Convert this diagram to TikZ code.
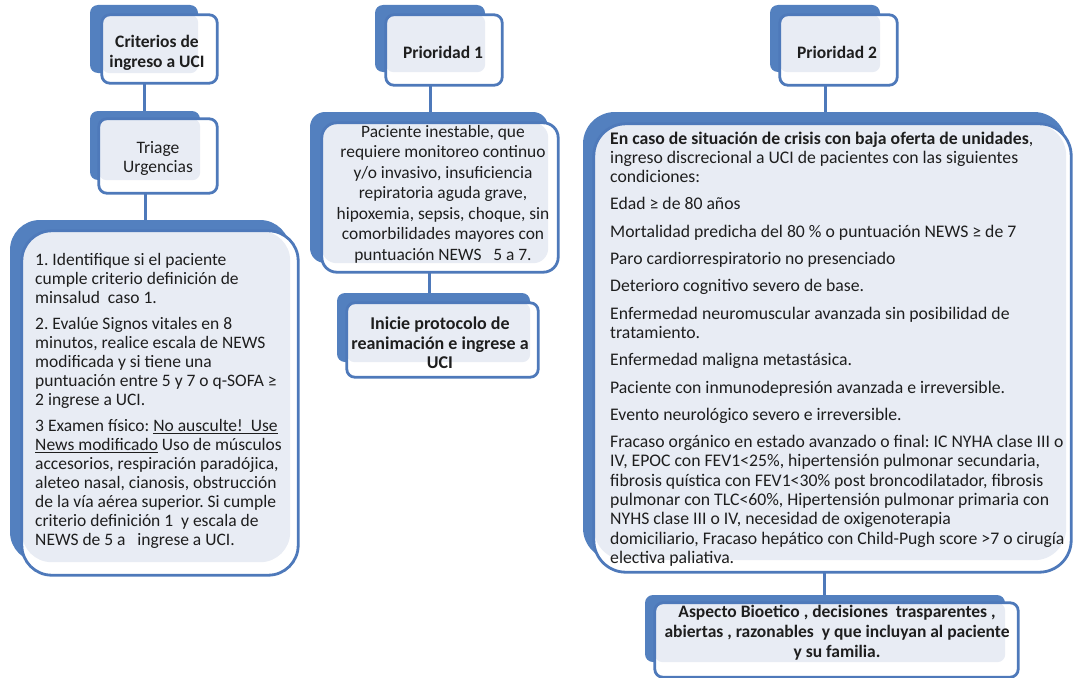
\documentclass[tikz,border=0pt]{standalone}
\usepackage{fontspec}
\setmainfont{Carlito}
\usetikzlibrary{fit}
\definecolor{bback}{HTML}{5380BF}
\definecolor{bline}{HTML}{4E79BA}
\definecolor{bgray}{HTML}{E8ECF4}
\definecolor{tcol}{HTML}{1E1E1E}
\tikzset{
  backbox/.style={fill=bback, inner sep=0pt, draw=none},
  frontbox/.style={fill=white, inner sep=0pt, draw=none},
  frontline/.style={draw=bline, line width=2.8pt},
  conn/.style={draw=bline, line width=3pt},
  txt/.style={inner sep=0pt, text=tcol, font=\fontsize{17.5}{19}\selectfont},
  btxt/.style={inner sep=0pt, text=tcol, font=\fontsize{17.5}{19.5}\selectfont\bfseries, align=center},
}
\newcommand\dblbox[6]{%
  \node[backbox, rounded corners=#6, fit={#2 #3}] (#1b) {};
  \node[frontbox, rounded corners=#6, fit={#4 #5}] (#1) {};
  \fill[bgray, rounded corners=#6] (#1.north west) rectangle (#1b.south east);
  \draw[frontline, rounded corners=#6] (#1.north west) rectangle (#1.south east);
}
\begin{document}
\frenchspacing
\begin{tikzpicture}[x=1pt, y=-1pt]
\useasboundingbox (0,0) rectangle (1073,677);
% boxes
\dblbox{A}{(90,5)}{(198,73)}{(102,15)}{(217,83)}{8pt}
\dblbox{B}{(90,111)}{(200,180)}{(99,119)}{(217,193)}{8pt}
\dblbox{C}{(10,220)}{(290,562)}{(22,231)}{(298,575)}{30pt}
\dblbox{D}{(375,5)}{(485,72)}{(386,15)}{(502,85)}{8pt}
\dblbox{E}{(310,112)}{(548,263)}{(322,123)}{(558,272)}{15pt}
\dblbox{F}{(337,293)}{(530,362)}{(347,303)}{(538,377)}{8pt}
\dblbox{G}{(770,5)}{(880,72)}{(780,15)}{(897,85)}{8pt}
\dblbox{H}{(583,112)}{(1066,560)}{(594,124)}{(1071,572)}{32pt}
\dblbox{K}{(645,595)}{(1005,662)}{(655,603)}{(1018,677)}{8pt}
% connectors
\draw[conn] (Ab.south |- A.south) -- (Ab.south |- Bb.north);
\draw[conn] (Bb.south |- B.south) -- (Bb.south |- Cb.north);
\draw[conn] (Db.south |- D.south) -- (Db.south |- Eb.north);
\draw[conn] (Eb.south |- E.south) -- (Eb.south |- Fb.north);
\draw[conn] (Gb.south |- G.south) -- (Gb.south |- Hb.north);
\draw[conn] (Hb.south |- H.south) -- (Hb.south |- Kb.north);
% texts
\node[btxt] (At) at (157,53) {Criterios de\\ingreso a UCI};
\node[txt, align=center] (Bt) at (158,158) {Triage\\Urgencias};
\node[btxt] (Dt) at (443,52) {Prioridad 1};
\node[btxt] (Gt) at (837,52) {Prioridad 2};
\node[btxt, font=\fontsize{18}{19.5}\selectfont\bfseries] (Ft) at (440,343) {Inicie protocolo de\\reanimación e ingrese a\\UCI};
\node[btxt, font=\fontsize{17.5}{20}\selectfont\bfseries] (Kt) at (837,633) {Aspecto Bioetico , decisiones\ \ trasparentes ,\\abiertas , razonables\ \ y que incluyan al paciente\\y su familia.};
\node[txt, align=center, font=\fontsize{17.4}{20.5}\selectfont] (Et) at (443,194) {Paciente inestable, que\\requiere monitoreo continuo\\y/o invasivo, insuficiencia\\repiratoria aguda grave,\\hipoxemia, sepsis, choque, sin\\comorbilidades mayores con\\puntuación NEWS\ \ \ 5 a 7.};
\node[txt, align=left, anchor=west, font=\fontsize{17.5}{19}\selectfont] (Ct) at (35,401) {1. Identifique si el paciente\\
cumple criterio definición de\\
minsalud\ \ caso 1.\\[7pt]
2. Evalúe Signos vitales en 8\\
minutos, realice escala de NEWS\\
modificada y si tiene una\\
puntuación entre 5 y 7 o q-SOFA ≥\\
2 ingrese a UCI.\\[7pt]
3 Examen físico: \underline{No ausculte!\ \ Use}\\
\underline{News modificado} Uso de músculos\\
accesorios, respiración paradójica,\\
aleteo nasal, cianosis, obstrucción\\
de la vía aérea superior. Si cumple\\
criterio definición 1\ \ y escala de\\
NEWS de 5 a\ \ \ ingrese a UCI.};
\node[txt, align=left, anchor=west, font=\fontsize{17.7}{19.3}\selectfont] (Ht) at (610,349) {\textbf{En caso de situación de crisis con baja oferta de unidades},\\
ingreso discrecional a UCI de pacientes con las siguientes\\
condiciones:\\[8pt]
Edad ≥ de 80 años\\[8pt]
Mortalidad predicha del 80 \% o puntuación NEWS ≥ de 7\\[8pt]
Paro cardiorrespiratorio no presenciado\\[8pt]
Deterioro cognitivo severo de base.\\[8pt]
Enfermedad neuromuscular avanzada sin posibilidad de\\
tratamiento.\\[8pt]
Enfermedad maligna metastásica.\\[8pt]
Paciente con inmunodepresión avanzada e irreversible.\\[8pt]
Evento neurológico severo e irreversible.\\[8pt]
Fracaso orgánico en estado avanzado o final: IC NYHA clase III o\\
IV, EPOC con FEV1<25\%, hipertensión pulmonar secundaria,\\
fibrosis quística con FEV1<30\% post broncodilatador, fibrosis\\
pulmonar con TLC<60\%, Hipertensión pulmonar primaria con\\
NYHS clase III o IV, necesidad de oxigenoterapia\\
domiciliario, Fracaso hepático con Child-Pugh score >7 o cirugía\\
electiva paliativa.};
\end{tikzpicture}
\end{document}
